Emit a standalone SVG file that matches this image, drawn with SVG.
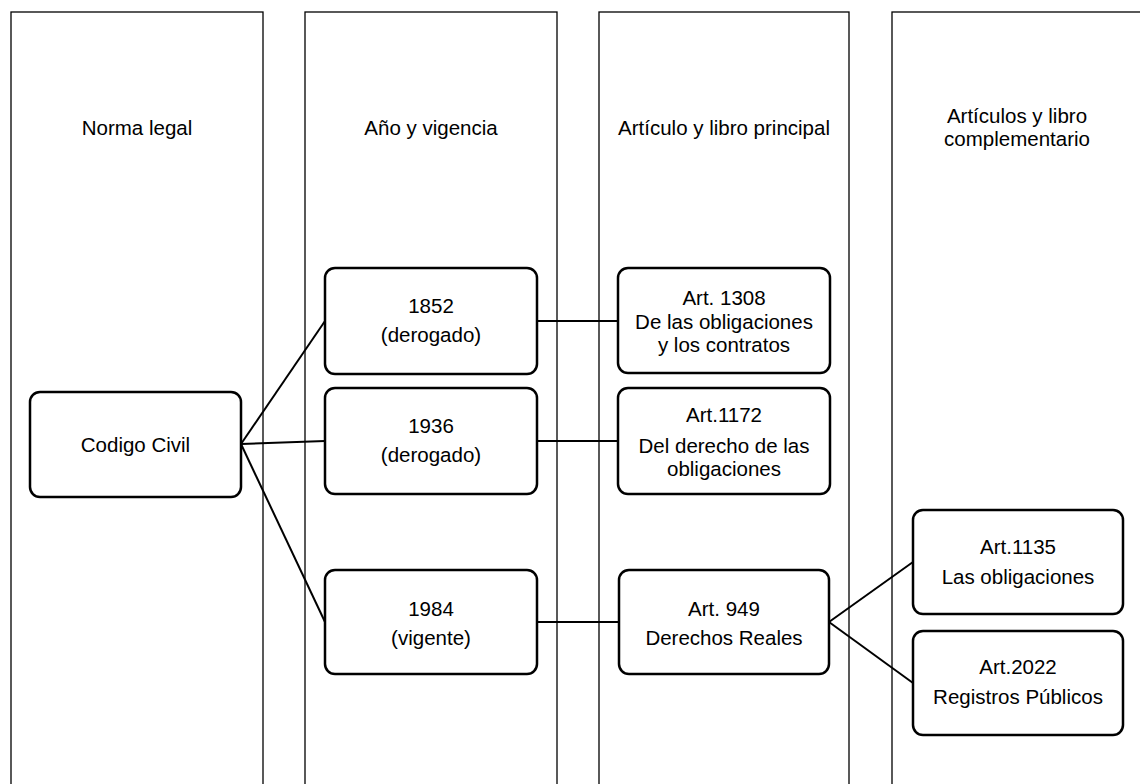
<svg xmlns="http://www.w3.org/2000/svg" width="1140" height="784" viewBox="0 0 1140 784">
  <style>
    .lane { fill: #ffffff; stroke: #000000; stroke-width: 1.3; }
    .node rect { fill: #ffffff; stroke: #000000; stroke-width: 2.5; }
    .edge { fill: none; stroke: #000000; stroke-width: 2; }
    text { font-family: "Liberation Sans", Arial, sans-serif; font-size: 20.5px; fill: #000000; text-anchor: middle; }
  </style>
  <rect x="0" y="0" width="1140" height="784" fill="#ffffff"/>

  <!-- swimlanes -->
  <g id="lanes">
    <g id="lane-norma">
      <rect class="lane" x="11" y="12" width="252" height="790"/>
      <text x="137" y="135">Norma legal</text>
    </g>
    <g id="lane-anio">
      <rect class="lane" x="305" y="12" width="252" height="790"/>
      <text x="431" y="135">Año y vigencia</text>
    </g>
    <g id="lane-principal">
      <rect class="lane" x="599" y="12" width="250" height="790"/>
      <text x="724" y="135">Artículo y libro principal</text>
    </g>
    <g id="lane-complementario">
      <rect class="lane" x="892" y="12" width="252" height="790"/>
      <text x="1017" y="123">Artículos y libro</text>
      <text x="1017" y="146">complementario</text>
    </g>
  </g>

  <!-- connectors -->
  <g id="connectors">
    <line class="edge" x1="241" y1="444" x2="325" y2="321"/>
    <line class="edge" x1="241" y1="444" x2="325" y2="441"/>
    <line class="edge" x1="241" y1="444" x2="325" y2="622"/>
    <line class="edge" x1="537" y1="321" x2="618" y2="321"/>
    <line class="edge" x1="537" y1="441" x2="618" y2="441"/>
    <line class="edge" x1="537" y1="622" x2="619" y2="622"/>
    <line class="edge" x1="829" y1="622" x2="913" y2="562"/>
    <line class="edge" x1="829" y1="622" x2="913" y2="683"/>
  </g>

  <!-- nodes -->
  <g id="codigo-civil" class="node">
    <rect x="30" y="392" width="211" height="105" rx="10"/>
    <text x="135.5" y="452">Codigo Civil</text>
  </g>

  <g id="cc-1852" class="node">
    <rect x="325" y="268" width="212" height="106" rx="10"/>
    <text x="431" y="313">1852</text>
    <text x="431" y="342">(derogado)</text>
  </g>
  <g id="cc-1936" class="node">
    <rect x="325" y="388" width="212" height="106" rx="10"/>
    <text x="431" y="433">1936</text>
    <text x="431" y="462">(derogado)</text>
  </g>
  <g id="cc-1984" class="node">
    <rect x="325" y="570" width="212" height="104" rx="10"/>
    <text x="431" y="616">1984</text>
    <text x="431" y="645">(vigente)</text>
  </g>

  <g id="art-1308" class="node">
    <rect x="618" y="268" width="212" height="105" rx="10"/>
    <text x="724" y="305">Art. 1308</text>
    <text x="724" y="328.5">De las obligaciones</text>
    <text x="724" y="352">y los contratos</text>
  </g>
  <g id="art-1172" class="node">
    <rect x="618" y="388" width="212" height="106" rx="10"/>
    <text x="724" y="422">Art.1172</text>
    <text x="724" y="453">Del derecho de las</text>
    <text x="724" y="476">obligaciones</text>
  </g>
  <g id="art-949" class="node">
    <rect x="619" y="570" width="210" height="104" rx="10"/>
    <text x="724" y="616">Art. 949</text>
    <text x="724" y="645">Derechos Reales</text>
  </g>

  <g id="art-1135" class="node">
    <rect x="913" y="510" width="210" height="104" rx="10"/>
    <text x="1018" y="554">Art.1135</text>
    <text x="1018" y="584">Las obligaciones</text>
  </g>
  <g id="art-2022" class="node">
    <rect x="913" y="631" width="210" height="104" rx="10"/>
    <text x="1018" y="674">Art.2022</text>
    <text x="1018" y="704">Registros Públicos</text>
  </g>
</svg>
